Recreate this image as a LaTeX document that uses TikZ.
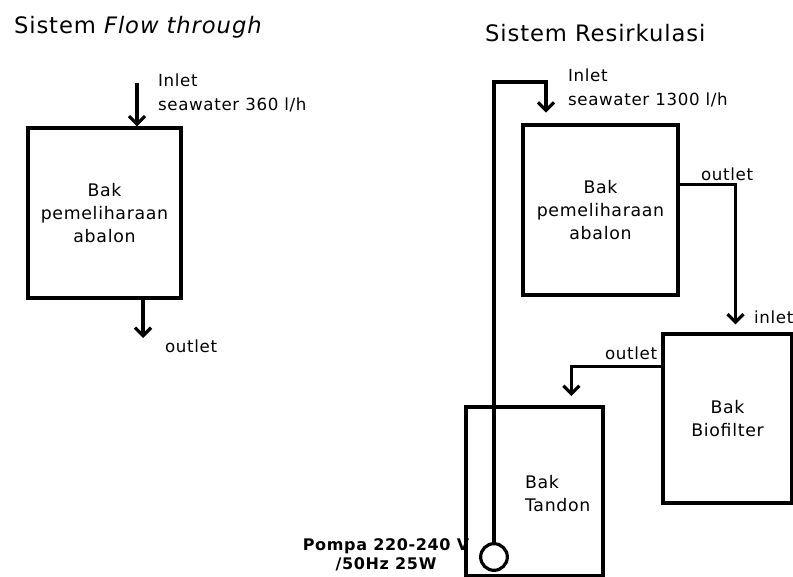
\documentclass[tikz,border=0pt]{standalone}
\usepackage{fontspec}
\setmainfont{DejaVu Sans}[LetterSpace=4]
\usetikzlibrary{arrows.meta, positioning, calc}

\begin{document}
\begin{tikzpicture}[x=0.75pt, y=-0.75pt, line width=2.4pt, tank/.style={draw, line width=2.4pt, align=center, font=\fontsize{13}{17.25}\selectfont}, lab/.style={align=left, font=\fontsize{12.5}{18}\selectfont}, ttl/.style={font=\fontsize{17}{19}\selectfont}, flow/.style={-{Straight Barb[length=6pt, width=12pt]}, line width=2.4pt}]
\useasboundingbox (0,0) rectangle (793,577);
\node[ttl, anchor=west] (ttlL) at (8,27) {Sistem \textit{Flow through}};
\node[ttl, anchor=west] (ttlR) at (479,33) {Sistem Resirkulasi};
\node[tank, minimum width=114.75pt, minimum height=127.5pt] (boxL) at (104.5,213) {Bak\\pemeliharaan\\abalon};
\coordinate (inL) at (137,83);
\coordinate (outL) at (143,338);
\draw[flow] (inL) -- (inL |- boxL.north);
\draw[flow] (boxL.south -| outL) -- (outL);
\node[lab, anchor=west] (inLlab) at (152,92.5) {Inlet\\seawater 360 l/h};
\node[lab, anchor=west] (outLlab) at (159,346) {outlet};
\node[tank, minimum width=116.25pt, minimum height=127.5pt] (boxR) at (600.5,210) {Bak\\pemeliharaan\\abalon};
\node[tank, minimum width=96.75pt, minimum height=126.75pt] (bio) at (727.5,418.5) {Bak\\Biofilter};
\node[tank, minimum width=102.75pt, minimum height=126.75pt] (tandon) at (534.5,491.5) {};
\node[lab, anchor=west, font=\fontsize{13}{17.25}\selectfont] (tandonlab) at (519,494) {Bak\\Tandon};
\node[circle, draw, line width=2.4pt, minimum size=20pt, inner sep=0pt] (pump) at (494,557) {};
\node[lab, align=center, font=\bfseries\fontsize{12}{14}\selectfont] (pumplab) at (386,555) {Pompa 220-240 V\\/50Hz 25W};
\coordinate (turn) at (546,82);
\coordinate (outR) at ($(boxR.north east)+(0,61)$);
\coordinate (outB) at ($(bio.north west)+(0,34)$);
\draw[flow, shorten >=8pt] (pump.north) |- (turn) -- (turn |- boxR.north);
\draw[flow, shorten >=6pt] (outR) -| ($(bio.north west)+(74,0)$);
\draw[flow, shorten >=7pt] (outB) -| ($(tandon.north west)+(107,0)$);
\node[lab, anchor=west] (inRlab) at (562,88) {Inlet\\seawater 1300 l/h};
\node[lab, anchor=west] (outRlab) at (695,174) {outlet};
\node[lab, anchor=west] (inBlab) at (748,317) {inlet};
\node[lab, anchor=west] (outBlab) at (599,353) {outlet};
\end{tikzpicture}
\end{document}
